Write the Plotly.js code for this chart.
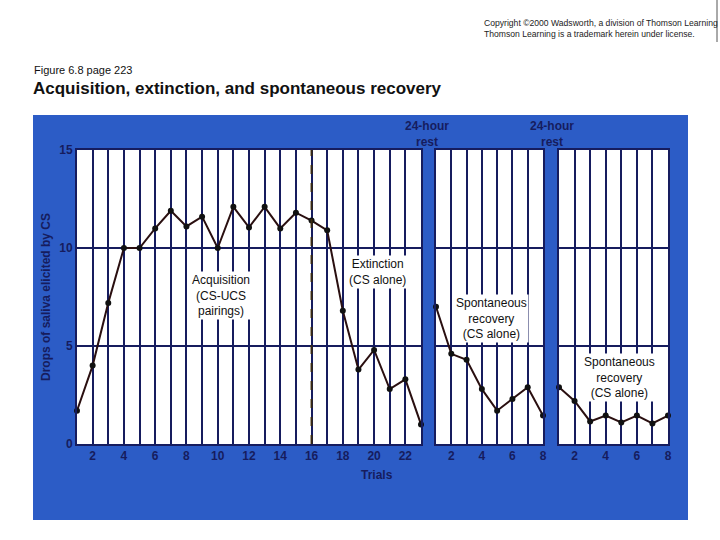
<!DOCTYPE html>
<html>
<head>
<meta charset="utf-8">
<script src="https://cdn.plot.ly/plotly-3.0.1.min.js"></script>
<style>html,body{margin:0;padding:0;background:#fff;}#chart{width:720px;height:540px;}</style>
</head>
<body>
<div id="chart"></div>
<script>
// ---- data ----
const acqTrials = [1,2,3,4,5,6,7,8,9,10,11,12,13,14,15,16,17,18,19,20,21,22,23];
const acqDrops  = [1.7,4.0,7.2,10.0,10.0,11.0,11.9,11.1,11.6,10.0,12.1,11.05,12.1,11.0,11.8,11.4,10.9,6.8,3.8,4.8,2.8,3.3,1.0];
const rec1Trials = [1,2,3,4,5,6,7,8];
const rec1Drops  = [7.0,4.6,4.3,2.8,1.7,2.3,2.9,1.45];
const rec2Trials = [1,2,3,4,5,6,7,8];
const rec2Drops  = [2.9,2.2,1.15,1.45,1.1,1.45,1.05,1.45];
const acqTickLabels = ['','2','','4','','6','','8','','10','','12','','14','','16','','18','','20','','22',''];
const recTickLabels = ['','2','','4','','6','','8'];
const yTickVals = [0,5,10,15];
const yTickLabels = ['0','5','10','15'];
const extinctionStart = 16;

// ---- styles ----
const BLUE = '#2c5cc6';
const NAVY = '#161c5e';
const LINE = '#2a0f10';
const FONT = 'Liberation Sans, Arial, sans-serif';

function trace(x, y, xa, ya) {
  return {x: x, y: y, xaxis: xa, yaxis: ya, type: 'scatter', mode: 'lines+markers',
    line: {color: LINE, width: 2}, marker: {color: '#111', size: 6},
    cliponaxis: false, hoverinfo: 'skip', showlegend: false};
}

function xAxis(domain, trials, labels, anchor) {
  return {domain: domain, anchor: anchor, range: [trials[0], trials[trials.length-1]],
    tickmode: 'array', tickvals: trials, ticktext: labels, ticks: '',
    showgrid: true, gridcolor: NAVY, gridwidth: 2, zeroline: false,
    showline: true, linecolor: NAVY, linewidth: 2, mirror: true,
    tickfont: {family: FONT, size: 12, color: NAVY, weight: 'bold'}, fixedrange: true};
}
function yAxis(anchor, showLabels) {
  return {anchor: anchor, range: [0, 15], tickmode: 'array', tickvals: yTickVals, ticktext: yTickLabels,
    ticks: '', showticklabels: showLabels, showgrid: true, gridcolor: NAVY, gridwidth: 2, zeroline: false,
    showline: true, linecolor: NAVY, linewidth: 2, mirror: true,
    tickfont: {family: FONT, size: 12, color: NAVY, weight: 'bold'}, fixedrange: true};
}

const data = [
  trace(acqTrials, acqDrops, 'x', 'y'),
  trace(rec1Trials, rec1Drops, 'x2', 'y2'),
  trace(rec2Trials, rec2Drops, 'x3', 'y3')
];

// paper mapping helpers (plot area: l=77, t=150, w=591, h=294)
const PX = p => (p - 77) / 591;
const PY = p => (444 - p) / 294;

const y1 = yAxis('x', true);
y1.title = {text: 'Drops of saliva elicited by CS', standoff: 6,
  font: {family: FONT, size: 12, color: NAVY, weight: 'bold'}};

const textFont = {family: FONT, size: 12, color: '#111'};
const navyFont = {family: FONT, size: 12, color: NAVY, weight: 'bold'};

function note(x, y, text, font, extra) {
  return Object.assign({xref: 'paper', yref: 'paper', x: x, y: y, xanchor: 'center', yanchor: 'middle',
    showarrow: false, text: text, font: font}, extra || {});
}

const layout = {
  width: 720, height: 540,
  margin: {l: 77, r: 52, t: 150, b: 96, pad: 0},
  paper_bgcolor: BLUE, plot_bgcolor: '#ffffff',
  font: {family: FONT},
  title: {text: 'Acquisition, extinction, and spontaneous recovery',
    x: 33/720, xanchor: 'left', xref: 'container', y: 1 - 88/540, yanchor: 'middle', yref: 'container',
    font: {family: FONT, size: 17, color: '#111', weight: 'bold'}},
  xaxis: xAxis([0, PX(421)], acqTrials, acqTickLabels, 'y'),
  xaxis2: xAxis([PX(436), PX(543)], rec1Trials, recTickLabels, 'y2'),
  xaxis3: xAxis([PX(559), PX(668)], rec2Trials, recTickLabels, 'y3'),
  yaxis: y1,
  yaxis2: yAxis('x2', false),
  yaxis3: yAxis('x3', false),
  shapes: [
    // white surround outside the blue card
    {type: 'rect', xref: 'paper', yref: 'paper', x0: -0.3, x1: 1.3, y0: PY(115), y1: 1.8, fillcolor: '#ffffff', line: {width: 0}, layer: 'below'},
    {type: 'rect', xref: 'paper', yref: 'paper', x0: -0.3, x1: 1.3, y0: PY(520), y1: -0.6, fillcolor: '#ffffff', line: {width: 0}, layer: 'below'},
    {type: 'rect', xref: 'paper', yref: 'paper', x0: -0.3, x1: PX(33), y0: -0.6, y1: 1.8, fillcolor: '#ffffff', line: {width: 0}, layer: 'below'},
    {type: 'rect', xref: 'paper', yref: 'paper', x0: PX(688), x1: 1.3, y0: -0.6, y1: 1.8, fillcolor: '#ffffff', line: {width: 0}, layer: 'below'},
    // corner rule near copyright
    {type: 'line', xref: 'paper', yref: 'paper', x0: PX(717), x1: PX(717), y0: PY(0), y1: PY(42), line: {color: '#555', width: 1}},
    // dashed divider between acquisition and extinction
    {type: 'line', xref: 'x', yref: 'y', x0: extinctionStart, x1: extinctionStart, y0: 0, y1: 15,
      line: {color: '#3a2a10', width: 2, dash: 'dash'}, layer: 'above'}
  ],
  annotations: [
    note(PX(32), PY(70), 'Figure 6.8 page 223', {family: FONT, size: 11, color: '#111'}, {xanchor: 'left'}),
    note(PX(482), PY(28), 'Copyright ©2000 Wadsworth, a division of Thomson Learning<br>Thomson Learning is a trademark herein under license.',
      {family: FONT, size: 8.6, color: '#222'}, {xanchor: 'left', align: 'left'}),
    {xref: 'x', yref: 'y', x: 10.2, y: 7.6, showarrow: false, text: 'Acquisition<br>(CS-UCS<br>pairings)',
      font: textFont, bgcolor: '#ffffff', borderpad: 1},
    {xref: 'x', yref: 'y', x: 20.2, y: 8.8, showarrow: false, text: 'Extinction<br>(CS alone)',
      font: textFont, bgcolor: '#ffffff', borderpad: 1},
    {xref: 'x2', yref: 'y2', x: 4.66, y: 6.4, showarrow: false, text: 'Spontaneous<br>recovery<br>(CS alone)',
      font: textFont, bgcolor: '#ffffff', borderpad: 1},
    {xref: 'x3', yref: 'y3', x: 4.9, y: 3.37, showarrow: false, text: 'Spontaneous<br>recovery<br>(CS alone)',
      font: textFont, bgcolor: '#ffffff', borderpad: 1},
    note(PX(427), PY(134), '24-hour<br>rest', navyFont),
    note(PX(552), PY(134), '24-hour<br>rest', navyFont),
    note(PX(377), PY(475), 'Trials', navyFont)
  ]
};

Plotly.newPlot('chart', data, layout, {staticPlot: true, displayModeBar: false});
</script>
</body>
</html>
